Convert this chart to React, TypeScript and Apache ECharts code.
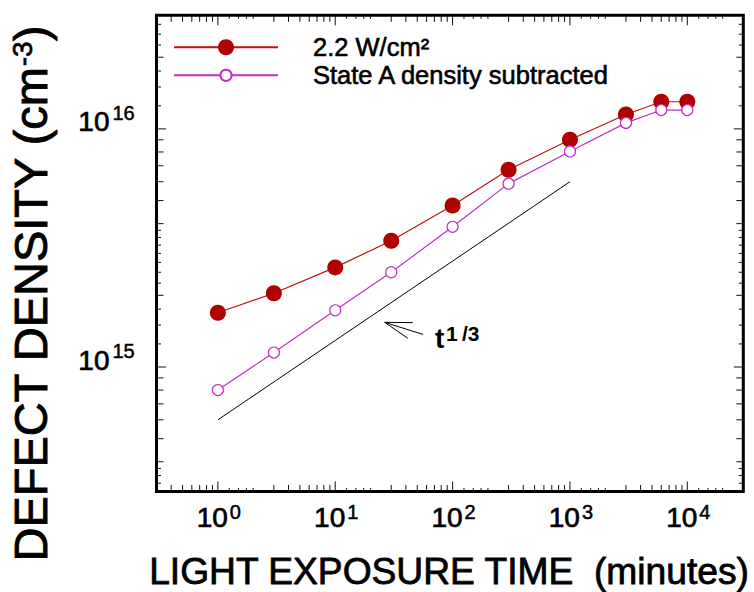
import React, { useEffect, useRef } from 'react';
import * as echarts from 'echarts';

const FONT = "'Liberation Sans', Arial, Helvetica, sans-serif";
const RED = '#b00000';
const RED_LINE = '#c01010';
const MAGENTA = '#c030c0';

// Light-soaking run: exposure time in minutes
const EXPOSURE_MINUTES = [1, 3, 10, 30, 100, 300, 1000, 3000, 6000, 10000];
// Defect density (cm^-3) at 2.2 W/cm²
const DENSITY_2_2W = [1.69e15, 2.04e15, 2.62e15, 3.39e15, 4.77e15, 6.74e15, 9.0e15, 1.15e16, 1.3e16, 1.3e16];
// Same run with the State A density subtracted
const DENSITY_STATE_A_SUBTRACTED = [8.0e14, 1.15e15, 1.73e15, 2.5e15, 3.88e15, 5.89e15, 8.04e15, 1.06e16, 1.2e16, 1.2e16];

// t^(1/3) guide line
const GUIDE_MINUTES = [1, 1000];
const GUIDE_DENSITY = [6e14, 6e15];
// arrow pointing at the guide line: tip, then tail
const ARROW_TIP = [26.4, 1.54e15];
const ARROW_TAIL = [56, 1.37e15];

const SERIES_NAMES = ['2.2 W/cm²', 'State A density subtracted'];
const X_TITLE = 'LIGHT EXPOSURE TIME \u00a0(minutes)';

// axis ranges and tick layout
const X_RANGE = [0.3, 30000];
const Y_RANGE = [3e14, 3e16];
const X_DECADES = [0.1, 1, 10, 100, 1000, 10000];
const Y_DECADES = [1e14, 1e15, 1e16];
const X_MAJOR = [1, 10, 100, 1000, 10000];
const Y_MAJOR = [1e15, 1e16];
const X_MID_MANTISSAS = [3, 4, 5, 6, 7, 8, 9];
const X_SHORT_MANTISSAS = [1.25, 1.5, 1.75, 2];
const Y_MID_MANTISSAS = [2, 4, 5, 6, 7, 8, 9];
const Y_SHORT_MANTISSAS = [1.25, 1.5, 1.75, 2.25, 2.5, 2.75, 3, 3.25, 3.5, 3.75];

function spread(decades: number[], mantissas: number[], range: number[]): number[] {
  const out: number[] = [];
  decades.forEach((d) =>
    mantissas.forEach((m) => {
      const v = d * m;
      if (v > range[0] * 1.0001 && v < range[1] * 0.9999) out.push(v);
    })
  );
  return out;
}

// rows: [x, y, axis (0 = x, 1 = y), length]
const tickRows: number[][] = [
  ...X_MAJOR.map((v) => [v, Y_RANGE[0], 0, 10]),
  ...spread(X_DECADES, X_MID_MANTISSAS, X_RANGE).map((v) => [v, Y_RANGE[0], 0, 6.5]),
  ...spread(X_DECADES, X_SHORT_MANTISSAS, X_RANGE).map((v) => [v, Y_RANGE[0], 0, 3.5]),
  ...Y_MAJOR.map((v) => [X_RANGE[0], v, 1, 9.5]),
  ...spread(Y_DECADES, Y_MID_MANTISSAS, Y_RANGE).map((v) => [X_RANGE[0], v, 1, 7]),
  ...spread(Y_DECADES, Y_SHORT_MANTISSAS, Y_RANGE).map((v) => [X_RANGE[0], v, 1, 4.5]),
];

const labelRows: number[][] = [
  ...X_MAJOR.map((v) => [v, Y_RANGE[0], 0]),
  ...Y_MAJOR.map((v) => [X_RANGE[0], v, 1]),
];

const zip = (xs: number[], ys: number[]) => xs.map((x, i) => [x, ys[i]]);

const hiddenAxis = {
  axisLine: { show: false },
  axisTick: { show: false },
  axisLabel: { show: false },
  splitLine: { show: false },
};

// a slight outline gives the text the heavier weight of the printed figure
const textStyle = (size: number, weight = 'normal', outline = 0.7) => ({
  fontSize: size,
  fontFamily: FONT,
  fontWeight: weight,
  fill: '#000',
  stroke: '#000',
  lineWidth: outline,
});

const legendText = {
  fontSize: 25.5,
  fontFamily: FONT,
  color: '#000',
  textBorderColor: '#000',
  textBorderWidth: 0.6,
  padding: [0, 0, 0, 30],
};

const option: any = {
  animation: false,
  backgroundColor: '#fff',
  grid: {
    left: 156.5,
    right: 10.7,
    top: 15.3,
    bottom: 100.5,
    show: true,
    borderColor: '#000',
    borderWidth: 3,
    backgroundColor: 'transparent',
  },
  xAxis: { type: 'log', logBase: 10, min: X_RANGE[0], max: X_RANGE[1], ...hiddenAxis },
  yAxis: { type: 'log', logBase: 10, min: Y_RANGE[0], max: Y_RANGE[1], ...hiddenAxis },
  legend: [
    {
      data: [SERIES_NAMES[0]],
      left: 173,
      top: 34,
      padding: 0,
      itemWidth: 104,
      itemHeight: 20,
      selectedMode: false,
      textStyle: legendText,
    },
    {
      data: [SERIES_NAMES[1]],
      left: 173,
      top: 62,
      padding: 0,
      itemWidth: 104,
      itemHeight: 14,
      selectedMode: false,
      textStyle: legendText,
    },
  ],
  graphic: [
    {
      type: 'text',
      x: 449,
      y: 571,
      scaleX: 1.005,
      style: { text: X_TITLE, ...textStyle(37, 'normal', 0.8), align: 'center', verticalAlign: 'middle' },
    },
    {
      type: 'text',
      x: 30,
      y: 294,
      rotation: Math.PI / 2,
      style: {
        text: '{a|DEFECT DENSITY (cm}{b|-3}{a|)}',
        align: 'center',
        verticalAlign: 'middle',
        fill: '#000',
        rich: {
          a: { ...textStyle(47, 'normal', 0.9) },
          b: { ...textStyle(28), padding: [0, 0, 16, 0] },
        },
      },
    },
  ],
  series: [
    {
      type: 'line',
      name: SERIES_NAMES[0],
      data: zip(EXPOSURE_MINUTES, DENSITY_2_2W),
      symbol: 'circle',
      symbolSize: 16,
      showAllSymbol: true,
      itemStyle: { color: RED },
      lineStyle: { color: RED_LINE, width: 1.2 },
      z: 3,
    },
    {
      type: 'line',
      name: SERIES_NAMES[1],
      data: zip(EXPOSURE_MINUTES, DENSITY_STATE_A_SUBTRACTED),
      symbol: 'circle',
      symbolSize: 11,
      showAllSymbol: true,
      itemStyle: { color: '#fff', borderColor: MAGENTA, borderWidth: 1.2 },
      lineStyle: { color: MAGENTA, width: 1.2 },
      z: 4,
    },
    {
      type: 'line',
      name: 'slope guide',
      data: zip(GUIDE_MINUTES, GUIDE_DENSITY),
      symbol: 'none',
      lineStyle: { color: '#000', width: 1 },
      silent: true,
      z: 2,
    },
    {
      type: 'custom',
      name: 'frame ticks',
      data: tickRows,
      silent: true,
      z: 5,
      renderItem: (params: any, api: any) => {
        const cs = params.coordSys;
        const len = api.value(3);
        const st = { stroke: '#111', lineWidth: 1 };
        const p = api.coord([api.value(0), api.value(1)]);
        if (api.value(2) === 0) {
          const b = cs.y + cs.height;
          const t = cs.y;
          return {
            type: 'group',
            children: [
              { type: 'line', shape: { x1: p[0], y1: b, x2: p[0], y2: b - len }, style: st },
              { type: 'line', shape: { x1: p[0], y1: t, x2: p[0], y2: t + len }, style: st },
            ],
          };
        }
        const l = cs.x;
        const r = cs.x + cs.width;
        return {
          type: 'group',
          children: [
            { type: 'line', shape: { x1: l, y1: p[1], x2: l + len, y2: p[1] }, style: st },
            { type: 'line', shape: { x1: r, y1: p[1], x2: r - len, y2: p[1] }, style: st },
          ],
        };
      },
    },
    {
      type: 'custom',
      name: 'tick labels',
      data: labelRows,
      silent: true,
      renderItem: (params: any, api: any) => {
        const cs = params.coordSys;
        const v = api.value(2) === 0 ? api.value(0) : api.value(1);
        const exp = String(Math.round(Math.log10(v)));
        const p = api.coord([api.value(0), api.value(1)]);
        if (api.value(2) === 0) {
          const b = cs.y + cs.height;
          return {
            type: 'group',
            children: [
              { type: 'text', x: p[0] + 10, y: b + 25.5, style: { text: '10', ...textStyle(28), align: 'right', verticalAlign: 'middle' } },
              { type: 'text', x: p[0] + 12, y: b + 20, style: { text: exp, ...textStyle(20, 'normal', 0.5), align: 'left', verticalAlign: 'middle' } },
            ],
          };
        }
        return {
          type: 'group',
          children: [
            { type: 'text', x: cs.x - 47, y: p[1] - 7, style: { text: '10', ...textStyle(28), align: 'right', verticalAlign: 'middle' } },
            { type: 'text', x: cs.x - 44, y: p[1] - 16, style: { text: exp, ...textStyle(20, 'normal', 0.5), align: 'left', verticalAlign: 'middle' } },
          ],
        };
      },
    },
    {
      type: 'custom',
      name: 'slope note',
      data: [[ARROW_TIP[0], ARROW_TIP[1], ARROW_TAIL[0], ARROW_TAIL[1]]],
      silent: true,
      renderItem: (params: any, api: any) => {
        const tip = api.coord([api.value(0), api.value(1)]);
        const tail = api.coord([api.value(2), api.value(3)]);
        const ang = Math.atan2(tail[1] - tip[1], tail[0] - tip[0]);
        const half = (17 * Math.PI) / 180;
        const barb = 28;
        const end = (a: number) => [tip[0] + barb * Math.cos(a), tip[1] + barb * Math.sin(a)];
        const b1 = end(ang - half);
        const b2 = end(ang + half);
        const st = { stroke: '#000', lineWidth: 1 };
        return {
          type: 'group',
          children: [
            { type: 'line', shape: { x1: tip[0], y1: tip[1], x2: tail[0], y2: tail[1] }, style: st },
            { type: 'line', shape: { x1: tip[0], y1: tip[1], x2: b1[0], y2: b1[1] }, style: st },
            { type: 'line', shape: { x1: tip[0], y1: tip[1], x2: b2[0], y2: b2[1] }, style: st },
            { type: 'text', x: tail[0] + 12, y: tail[1] + 4, style: { text: 't', ...textStyle(28, 'bold', 0), align: 'left', verticalAlign: 'middle' } },
            { type: 'text', x: tail[0] + 23, y: tail[1] - 1, style: { text: '1\u2009/3', ...textStyle(21, 'bold', 0), align: 'left', verticalAlign: 'middle' } },
          ],
        };
      },
    },
  ],
};

export default function App() {
  const ref = useRef<HTMLDivElement>(null);
  useEffect(() => {
    const chart = echarts.init(ref.current!, undefined, { renderer: 'svg' });
    chart.setOption(option);
    return () => chart.dispose();
  }, []);
  return (
    <div
      ref={ref}
      style={{ position: 'absolute', left: 0, top: 0, width: 754, height: 592, background: '#fff' }}
    />
  );
}
